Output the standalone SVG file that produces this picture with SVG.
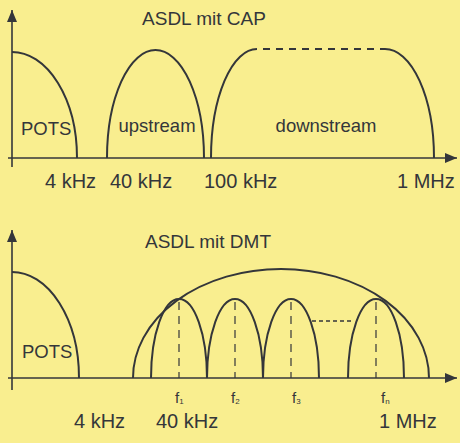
<svg xmlns="http://www.w3.org/2000/svg" width="460" height="443" viewBox="0 0 460 443">
<defs>
<style>
.bg{fill:#f9ee8f}
.ax{stroke:#34363a;stroke-width:1.6;fill:none}
.cv{stroke:#34363a;stroke-width:2;fill:none}
.dh{stroke:#34363a;stroke-width:2;fill:none;stroke-dasharray:7,6}
.dv{stroke:#34363a;stroke-width:1.2;fill:none;stroke-dasharray:8,6}
.dd{stroke:#34363a;stroke-width:1.4;fill:none;stroke-dasharray:4,3}
text{font-family:"Liberation Sans",Arial,sans-serif;fill:#34363a}
.t{font-size:19px}
.l{font-size:18.5px}
.a{font-size:20px}
.f{font-size:15px}
.s{font-size:8px}
</style>
<marker id="ar" viewBox="0 0 12 10" refX="12" refY="5" markerWidth="12" markerHeight="10" markerUnits="userSpaceOnUse" orient="auto">
<path d="M0,0 L12,5 L0,10 Z" fill="#34363a"/>
</marker>
</defs>
<rect class="bg" x="0" y="0" width="460" height="443"/>

<g id="connectors">
<line class="ax" x1="12" y1="167" x2="12" y2="10" marker-end="url(#ar)"/>
<line class="ax" x1="8" y1="158" x2="457" y2="158" marker-end="url(#ar)"/>
<line class="ax" x1="12" y1="390" x2="12" y2="230" marker-end="url(#ar)"/>
<line class="ax" x1="8" y1="378" x2="457" y2="378" marker-end="url(#ar)"/>
</g>

<g id="cap">
<text class="t" x="204" y="25" text-anchor="middle">ASDL mit CAP</text>
<g id="cap-pots">
<path class="cv" d="M12,52 A65,106 0 0 1 77,158"/>
<text class="l" x="21" y="135">POTS</text>
</g>
<g id="cap-upstream">
<path class="cv" d="M107,158 A48.5,108 0 0 1 204,158"/>
<text class="l" x="157" y="132" text-anchor="middle">upstream</text>
</g>
<g id="cap-downstream">
<path class="cv" d="M211,158 A46,109 0 0 1 257,49"/>
<line class="dh" x1="263" y1="49" x2="385" y2="49"/>
<path class="cv" d="M385,49 A49,109 0 0 1 434,158"/>
<text class="l" x="326" y="132" text-anchor="middle">downstream</text>
</g>
<g id="cap-axis-labels">
<text class="a" x="45" y="188">4 kHz</text>
<text class="a" x="110" y="188">40 kHz</text>
<text class="a" x="204" y="188">100 kHz</text>
<text class="a" x="397" y="188">1 MHz</text>
</g>
</g>

<g id="dmt">
<text class="t" x="208" y="248" text-anchor="middle">ASDL mit DMT</text>
<g id="dmt-pots">
<path class="cv" d="M12,272 A67,106 0 0 1 79,378"/>
<text class="l" x="22" y="358">POTS</text>
</g>
<g id="dmt-envelope">
<path class="cv" d="M133,378 A148,109 0 0 1 429,378"/>
</g>
<g id="dmt-f1">
<path class="cv" d="M151,378 A28,79 0 0 1 207,378"/>
<line class="dv" x1="179" y1="302" x2="179" y2="378"/>
<text class="f" x="175" y="403">f<tspan class="s" dy="1">1</tspan></text>
</g>
<g id="dmt-f2">
<path class="cv" d="M207,378 A28,79 0 0 1 263,378"/>
<line class="dv" x1="235" y1="302" x2="235" y2="378"/>
<text class="f" x="231" y="403">f<tspan class="s" dy="1">2</tspan></text>
</g>
<g id="dmt-f3">
<path class="cv" d="M263,378 A28,79 0 0 1 319,378"/>
<line class="dv" x1="291" y1="302" x2="291" y2="378"/>
<text class="f" x="292" y="403">f<tspan class="s" dy="1">3</tspan></text>
</g>
<line class="dd" x1="312" y1="321" x2="353" y2="321"/>
<g id="dmt-fn">
<path class="cv" d="M348,378 A28,79 0 0 1 404,378"/>
<line class="dv" x1="376" y1="302" x2="376" y2="378"/>
<text class="f" x="381" y="403">f<tspan class="s" dy="1">n</tspan></text>
</g>
<g id="dmt-axis-labels">
<text class="a" x="74" y="428">4 kHz</text>
<text class="a" x="156" y="428">40 kHz</text>
<text class="a" x="379" y="428">1 MHz</text>
</g>
</g>
</svg>
